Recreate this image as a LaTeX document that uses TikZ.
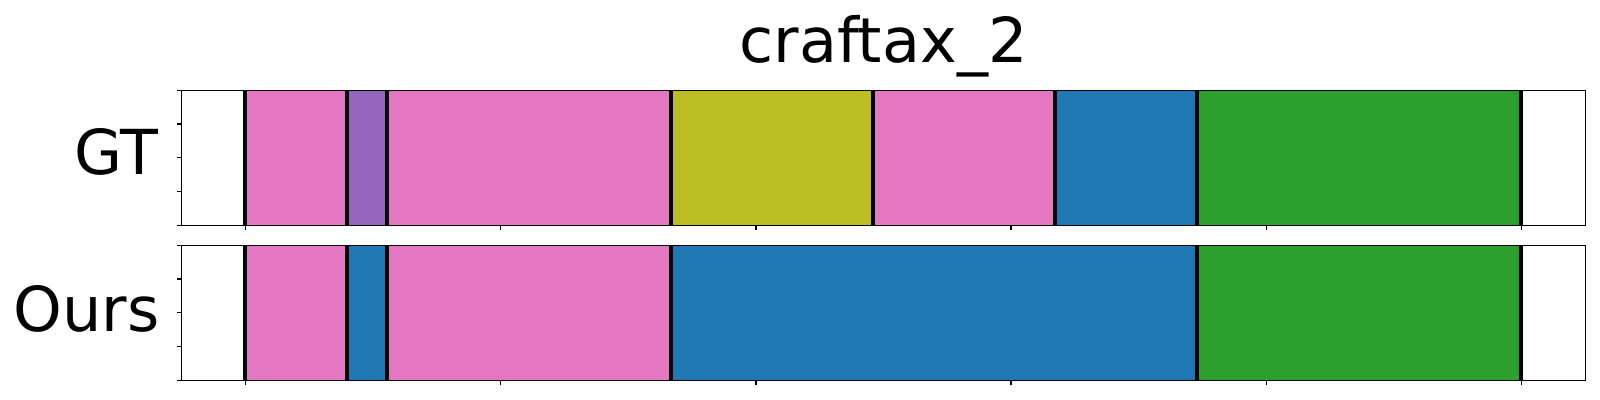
\documentclass[tikz,border=0pt]{standalone}
\usepackage{fontspec}
\setmainfont{DejaVu Sans}

\definecolor{tabpink}{HTML}{E377C2}
\definecolor{tabpurple}{HTML}{9467BD}
\definecolor{tabolive}{HTML}{BCBD22}
\definecolor{tabblue}{HTML}{1F77B4}
\definecolor{tabgreen}{HTML}{2CA02C}

\tikzstyle{heading} = [inner sep=0pt, 
font=\fontsize{31}{37}\selectfont]
\tikzstyle{rowname} = [inner sep=0pt, 
font=\fontsize{31}{37}\selectfont]
\tikzstyle{frame} = [draw=black, line width=0.6pt]
\tikzstyle{cut} = [draw=black, line width=2pt]
\tikzstyle{axtick} = [draw=black, line width=0.6pt]

\begin{document}
\begin{tikzpicture}[x=0.5pt, y=-0.5pt]
\useasboundingbox (0,0) rectangle (1600,400);

\node (title) [heading, anchor=base] at (883.5,62.7) {craftax\_2};
\node (gt) [rowname, anchor=base east] at (158.5,175) {GT};
\node (ours) [rowname, anchor=base east] at (160,331.7) {Ours};

% GT row
\foreach \a/\b/\c in {245/347/tabpink, 347/387/tabpurple, 387/671/tabpink,
  671/872.5/tabolive, 872.5/1054.5/tabpink, 1054.5/1197/tabblue, 1197/1521/tabgreen}
  \fill [\c] (\a,90.3) rectangle (\b,225.3);
\foreach \x in {245,347,387,671,872.5,1054.5,1197,1521}
  \draw [cut] (\x,90.3) -- (\x,225.3);
\draw [frame] (181.5,90.3) rectangle (1585.7,225.3);
\foreach \k in {0,...,5}
  \draw [axtick] (245.7+255.1*\k,225.3) -- ++(0,5);
\foreach \k in {0,...,4}
  \draw [axtick] (181.5,90.3+33.75*\k) -- ++(-5,0);

% Ours row
\foreach \a/\b/\c in {245/347/tabpink, 347/387/tabblue, 387/671/tabpink,
  671/1197/tabblue, 1197/1521/tabgreen}
  \fill [\c] (\a,245.3) rectangle (\b,380.3);
\foreach \x in {245,347,387,671,1197,1521}
  \draw [cut] (\x,245.3) -- (\x,380.3);
\draw [frame] (181.5,245.3) rectangle (1585.7,380.3);
\foreach \k in {0,...,5}
  \draw [axtick] (245.7+255.1*\k,380.3) -- ++(0,5);
\foreach \k in {0,...,4}
  \draw [axtick] (181.5,245.3+33.75*\k) -- ++(-5,0);
\end{tikzpicture}
\end{document}
